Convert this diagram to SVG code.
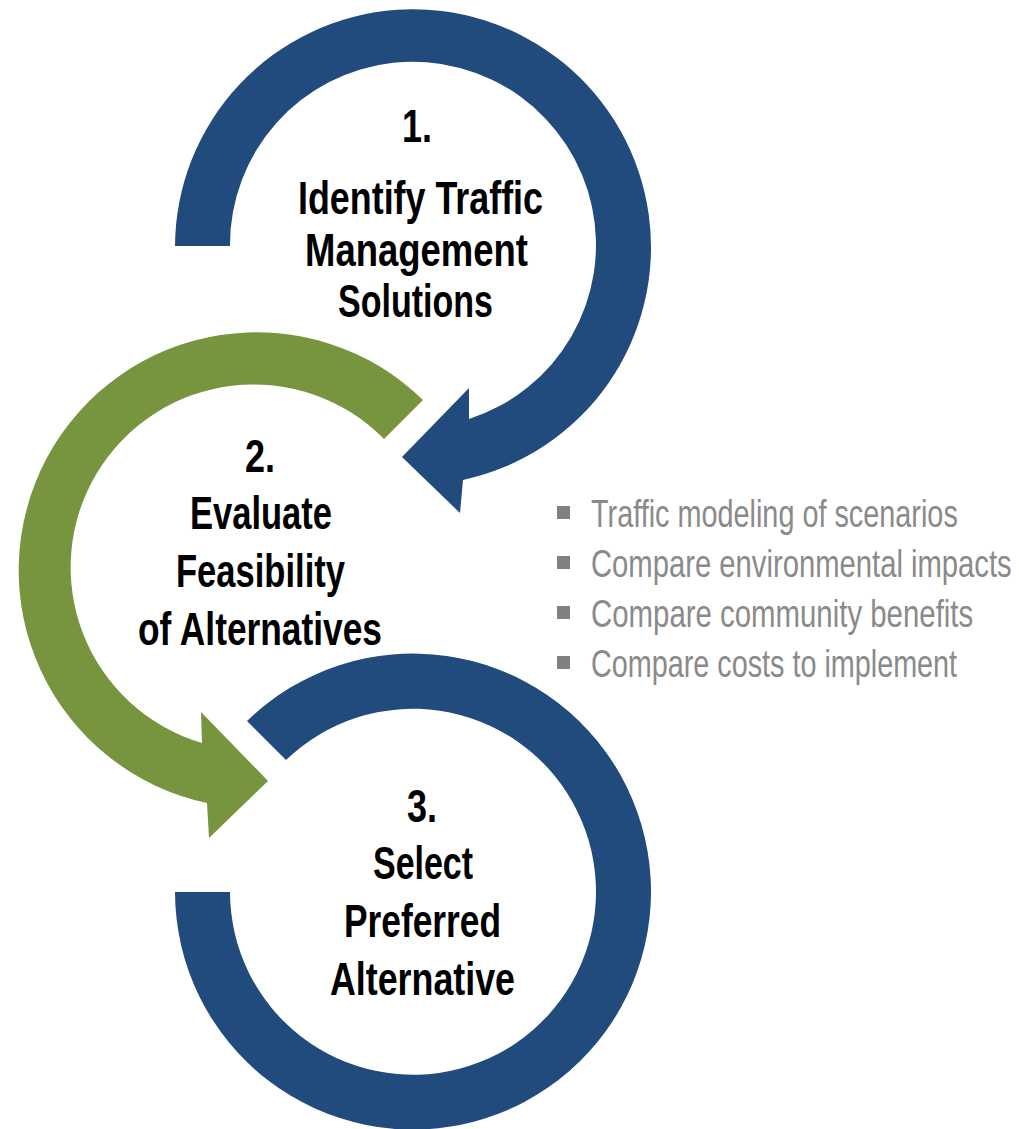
<svg xmlns="http://www.w3.org/2000/svg" width="1019" height="1129" viewBox="0 0 1019 1129">
<style>
.blue{fill:#214a7d}
.green{fill:#77953e}
.t{font-family:"Liberation Sans",Arial,sans-serif;font-weight:bold;font-size:46px;fill:#000;text-anchor:middle}
.b{font-family:"Liberation Sans",Arial,sans-serif;font-size:38px;fill:#8a8a8a}
.sq{fill:#808080}
</style>
<rect width="1019" height="1129" fill="#fff"/>
<g id="connectors">
<path id="arc1" class="blue" d="M175,246 A238,238 0 1 1 463,480 L460,513 L402,457 L469,388 L469,419 A183,183 0 1 0 230,246 Z"/>
<path id="arc2" class="green" d="M423,400 A238,238 0 1 0 207,803 L209,838 L268,781 L201,712 L202,743 A183,183 0 1 1 384,439 Z"/>
<path id="arc3" class="blue" d="M247,721 A238,238 0 1 1 175,892 L230,892 A183,183 0 1 0 286,760 Z"/>
</g>
<g id="step1">
<text class="t" x="417" y="142" textLength="30" lengthAdjust="spacingAndGlyphs">1.</text>
<text class="t" x="420.5" y="214" textLength="245" lengthAdjust="spacingAndGlyphs">Identify Traffic</text>
<text class="t" x="416.5" y="266" textLength="223" lengthAdjust="spacingAndGlyphs">Management</text>
<text class="t" x="415.5" y="317" textLength="155" lengthAdjust="spacingAndGlyphs">Solutions</text>
</g>
<g id="step2">
<text class="t" x="260" y="472" textLength="30" lengthAdjust="spacingAndGlyphs">2.</text>
<text class="t" x="261" y="529" textLength="142" lengthAdjust="spacingAndGlyphs">Evaluate</text>
<text class="t" x="260.5" y="587" textLength="169" lengthAdjust="spacingAndGlyphs">Feasibility</text>
<text class="t" x="260" y="645" textLength="244" lengthAdjust="spacingAndGlyphs">of Alternatives</text>
</g>
<g id="step3">
<text class="t" x="422" y="822" textLength="30" lengthAdjust="spacingAndGlyphs">3.</text>
<text class="t" x="423" y="879" textLength="100" lengthAdjust="spacingAndGlyphs">Select</text>
<text class="t" x="422.5" y="937" textLength="157" lengthAdjust="spacingAndGlyphs">Preferred</text>
<text class="t" x="422.5" y="995" textLength="185" lengthAdjust="spacingAndGlyphs">Alternative</text>
</g>
<g id="bullets">
<rect class="sq" x="557" y="506" width="13" height="13"/>
<text class="b" transform="translate(591,527) scale(0.7,1)" x="0" y="0" textLength="524" lengthAdjust="spacingAndGlyphs">Traffic modeling of scenarios</text>
<rect class="sq" x="557" y="556" width="13" height="13"/>
<text class="b" transform="translate(591,577) scale(0.7,1)" x="0" y="0" textLength="601" lengthAdjust="spacingAndGlyphs">Compare environmental impacts</text>
<rect class="sq" x="557" y="606" width="13" height="13"/>
<text class="b" transform="translate(591,627) scale(0.7,1)" x="0" y="0" textLength="546" lengthAdjust="spacingAndGlyphs">Compare community benefits</text>
<rect class="sq" x="557" y="656" width="13" height="13"/>
<text class="b" transform="translate(591,677) scale(0.7,1)" x="0" y="0" textLength="523" lengthAdjust="spacingAndGlyphs">Compare costs to implement</text>
</g>
</svg>
